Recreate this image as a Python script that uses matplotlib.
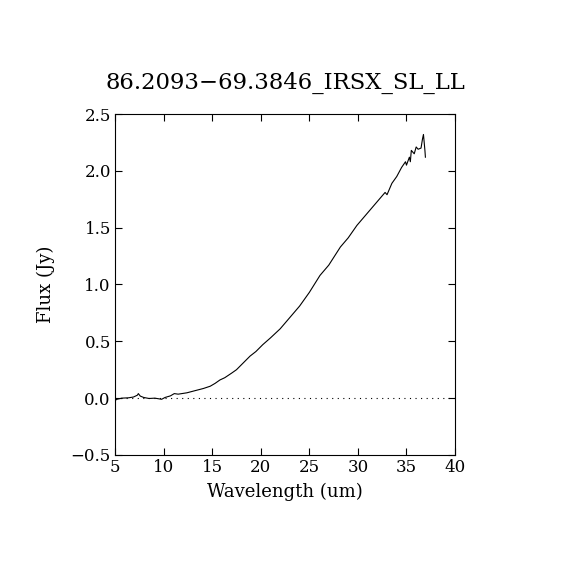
import numpy as np
import matplotlib
matplotlib.use("Agg")
import matplotlib.pyplot as plt

title = "86.2093\u221269.3846_IRSX_SL_LL"

# spectrum
wave = [5.0, 5.2, 5.7, 6.4, 6.9, 7.3, 7.4, 7.6, 7.95, 8.5, 9.1, 9.8, 10.15,
        10.7, 11.1, 11.5, 12.4, 13.2, 14.1, 14.8, 15.3, 15.8, 16.3, 17.0,
        17.5, 18.2, 18.9, 19.5, 20.2, 21.0, 22.0, 23.0, 24.0, 25.0, 26.1,
        27.0, 28.2, 29.0, 29.9, 30.9, 31.6, 31.9, 32.6, 32.8, 33.0, 33.5,
        34.0, 34.5, 34.9, 35.0, 35.3, 35.4, 35.5, 35.8, 36.0, 36.2, 36.5,
        36.65, 36.75, 36.9, 36.95]
flux = [-0.02, -0.01, 0.0, 0.003, 0.01, 0.026, 0.04, 0.018, 0.006, -0.003,
        0.0, -0.01, 0.006, 0.02, 0.04, 0.035, 0.047, 0.065, 0.085, 0.105,
        0.13, 0.16, 0.18, 0.22, 0.25, 0.31, 0.37, 0.41, 0.47, 0.53, 0.61,
        0.71, 0.81, 0.93, 1.08, 1.17, 1.33, 1.41, 1.52, 1.62, 1.69, 1.72,
        1.79, 1.81, 1.79, 1.89, 1.95, 2.03, 2.08, 2.05, 2.12, 2.08, 2.18,
        2.15, 2.21, 2.19, 2.20, 2.28, 2.32, 2.18, 2.12]

xticks = [5, 10, 15, 20, 25, 30, 35, 40]
yticks = [-0.5, 0.0, 0.5, 1.0, 1.5, 2.0, 2.5]

plt.rcParams['font.family'] = ['DejaVu Serif']

fig = plt.figure(figsize=(5.7, 5.7), dpi=100)
ax = fig.add_axes([0.2018, 0.2018, 0.5965, 0.5982])

ax.plot(wave, flux, color="black", lw=0.8)
ax.axhline(0, color="black", lw=0.8, linestyle=(0, (1, 4)))

ax.set_xlim(5, 40)
ax.set_ylim(-0.5, 2.5)
ax.set_xticks(xticks)
ax.set_yticks(yticks)
ax.set_yticklabels([f"{v:.1f}".replace("-", "\u2212") for v in yticks])
ax.tick_params(direction="in", length=5, width=0.8, top=True, right=True,
               labelsize=12, pad=3)
for s in ax.spines.values():
    s.set_linewidth(0.8)

ax.set_xlabel("Wavelength (um)", fontsize=13, labelpad=5)
ax.set_ylabel("Flux (Jy)", fontsize=13, labelpad=11)
fig.text(0.5, 0.854, title, ha="center", va="center", fontsize=16.4)

fig.savefig("out.png", dpi=100)
